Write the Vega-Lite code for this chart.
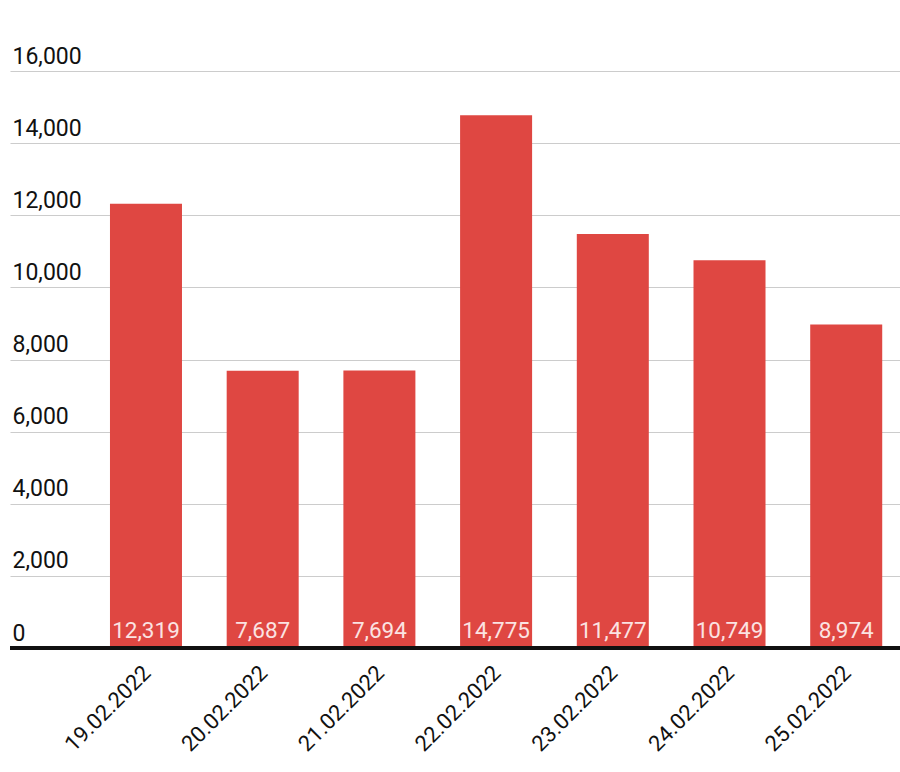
{
  "$schema": "https://vega.github.io/schema/vega-lite/v6.json",
  "autosize": {"type": "none"},
  "width": 890,
  "height": 577,
  "padding": {"left": 10, "top": 71, "right": 0, "bottom": 124},
  "background": "white",
  "config": {"font": "Roboto", "view": {"stroke": null}},
  "data": {"values": [
    {"date": "19.02.2022", "value": 12319},
    {"date": "20.02.2022", "value": 7687},
    {"date": "21.02.2022", "value": 7694},
    {"date": "22.02.2022", "value": 14775},
    {"date": "23.02.2022", "value": 11477},
    {"date": "24.02.2022", "value": 10749},
    {"date": "25.02.2022", "value": 8974}
  ]},
  "layer": [
    {
      "mark": {"type": "bar", "color": "#df4742"},
      "encoding": {
        "x": {
          "field": "date", "type": "nominal", "sort": null,
          "scale": {"paddingInner": 0.383, "paddingOuter": 0.5045, "align": 0.849},
          "axis": {"title": null, "labelAngle": -45, "labelFontSize": 22, "labelColor": "#111111", "domain": false, "ticks": false, "labelPadding": 14, "labelOffset": -6}
        },
        "y": {
          "field": "value", "type": "quantitative",
          "scale": {"domain": [0, 16000], "nice": false},
          "axis": {"title": null, "values": [0, 2000, 4000, 6000, 8000, 10000, 12000, 14000, 16000], "format": ",.0f", "domain": false, "ticks": false, "tickSize": 0, "labelAlign": "left", "labelBaseline": "alphabetic", "labelOffset": -8, "labelPadding": -2, "labelFontSize": 23, "labelColor": "#111111", "grid": true, "gridColor": "#cccccc", "gridWidth": 1.2}
        }
      }
    },
    {
      "mark": {"type": "text", "color": "#fbe3e2", "fontSize": 22.5, "baseline": "alphabetic", "dy": -10},
      "encoding": {
        "x": {"field": "date", "type": "nominal", "sort": null},
        "y": {"datum": 0, "type": "quantitative"},
        "text": {"field": "value", "type": "quantitative", "format": ","}
      }
    },
    {
      "mark": {"type": "rule", "color": "#111111", "strokeWidth": 3},
      "encoding": {"y": {"datum": 0, "type": "quantitative"}}
    }
  ]
}
